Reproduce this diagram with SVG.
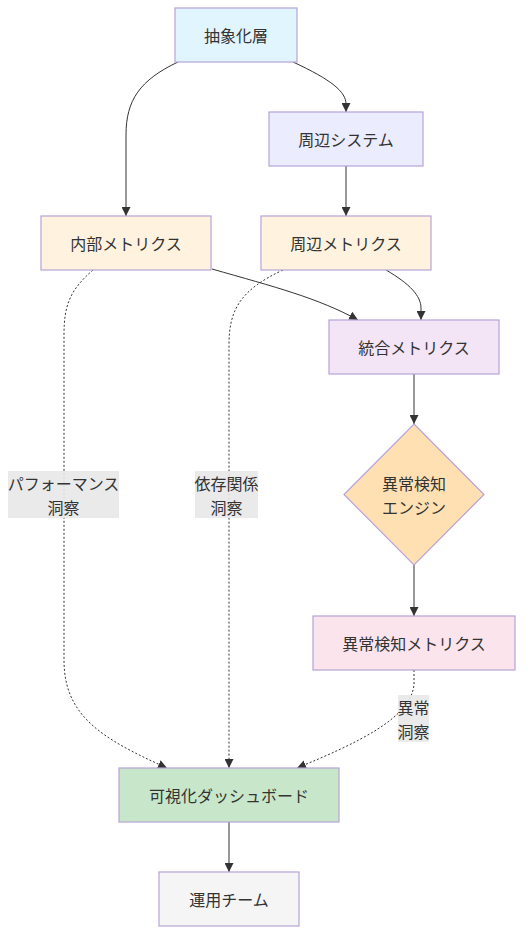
<svg xmlns="http://www.w3.org/2000/svg" width="529" height="934" viewBox="0 0 529 934">
<style>
.node rect,.node polygon{stroke:#b7a3d8;stroke-width:1.2}
.lbl{font-family:"Noto Sans CJK JP","Noto Sans",sans-serif;font-size:16px;fill:#333;text-anchor:middle;dominant-baseline:central}
.edge{fill:none;stroke:#333;stroke-width:1}
.dot{stroke-dasharray:2 2}
.elbg{fill:#e8e8e8;opacity:0.9}
</style>
<defs>
<marker id="arr" viewBox="0 0 10 10" refX="10" refY="5" markerWidth="9" markerHeight="9" markerUnits="userSpaceOnUse" orient="auto">
<path d="M0,0 L10,5 L0,10 z" fill="#333"/>
</marker>
</defs>
<rect width="529" height="934" fill="#fff"/>
<g id="connectors">
<path class="edge" d="M178,62 C140,80 126,100 126,135 L126,216" marker-end="url(#arr)"/>
<path class="edge" d="M293,62 C332,80 346,92 346,104 L346,112" marker-end="url(#arr)"/>
<path class="edge" d="M346,166 L346,216" marker-end="url(#arr)"/>
<path class="edge" d="M212,269 C275,287 318,298 358,320" marker-end="url(#arr)"/>
<path class="edge" d="M386,270 C410,284 421,296 421,308 L421,320" marker-end="url(#arr)"/>
<path class="edge" d="M414,374 L414,424" marker-end="url(#arr)"/>
<path class="edge" d="M414,565 L414,616" marker-end="url(#arr)"/>
<path class="edge dot" d="M93,270 C70,290 64,305 64,335 L64,660 C64,715 100,738 167,768" marker-end="url(#arr)"/>
<path class="edge dot" d="M283,270 C240,290 229,310 229,345 L229,768" marker-end="url(#arr)"/>
<path class="edge dot" d="M414,670 L414,685 C410,718 360,742 297,768" marker-end="url(#arr)"/>
<path class="edge" d="M229,822 L229,872" marker-end="url(#arr)"/>
</g>
<g id="edge-labels">
<g id="el-perf"><rect class="elbg" x="8" y="471" width="111" height="47"/><text class="lbl" x="63.5" y="483">パフォーマンス</text><text class="lbl" x="63.5" y="507">洞察</text></g>
<g id="el-dep"><rect class="elbg" x="195" y="471" width="63" height="47"/><text class="lbl" x="226.5" y="483">依存関係</text><text class="lbl" x="226.5" y="507">洞察</text></g>
<g id="el-anom"><rect class="elbg" x="398" y="695" width="31" height="47"/><text class="lbl" x="413.5" y="707">異常</text><text class="lbl" x="413.5" y="731">洞察</text></g>
</g>
<g id="n-abs" class="node"><rect x="175" y="8" width="122" height="54" fill="#e1f5fe"/><text class="lbl" x="236" y="35">抽象化層</text></g>
<g id="n-sys" class="node"><rect x="269" y="112" width="154" height="54" fill="#ececff"/><text class="lbl" x="346" y="139">周辺システム</text></g>
<g id="n-int" class="node"><rect x="41" y="216" width="170" height="54" fill="#fff3e0"/><text class="lbl" x="126" y="243">内部メトリクス</text></g>
<g id="n-per" class="node"><rect x="261" y="216" width="170" height="54" fill="#fff3e0"/><text class="lbl" x="346" y="243">周辺メトリクス</text></g>
<g id="n-uni" class="node"><rect x="329" y="320" width="170" height="54" fill="#f3e5f5"/><text class="lbl" x="414" y="347">統合メトリクス</text></g>
<g id="n-eng" class="node"><polygon points="414,424 484,494.5 414,565 344,494.5" fill="#ffe0b2"/><text class="lbl" x="414" y="483">異常検知</text><text class="lbl" x="414" y="507">エンジン</text></g>
<g id="n-anm" class="node"><rect x="313" y="616" width="202" height="54" fill="#fce4ec"/><text class="lbl" x="414" y="643">異常検知メトリクス</text></g>
<g id="n-dash" class="node"><rect x="119" y="768" width="220" height="54" fill="#c8e6c9"/><text class="lbl" x="229" y="795">可視化ダッシュボード</text></g>
<g id="n-ops" class="node"><rect x="159" y="872" width="140" height="54" fill="#f5f5f5"/><text class="lbl" x="229" y="899">運用チーム</text></g>
</svg>
